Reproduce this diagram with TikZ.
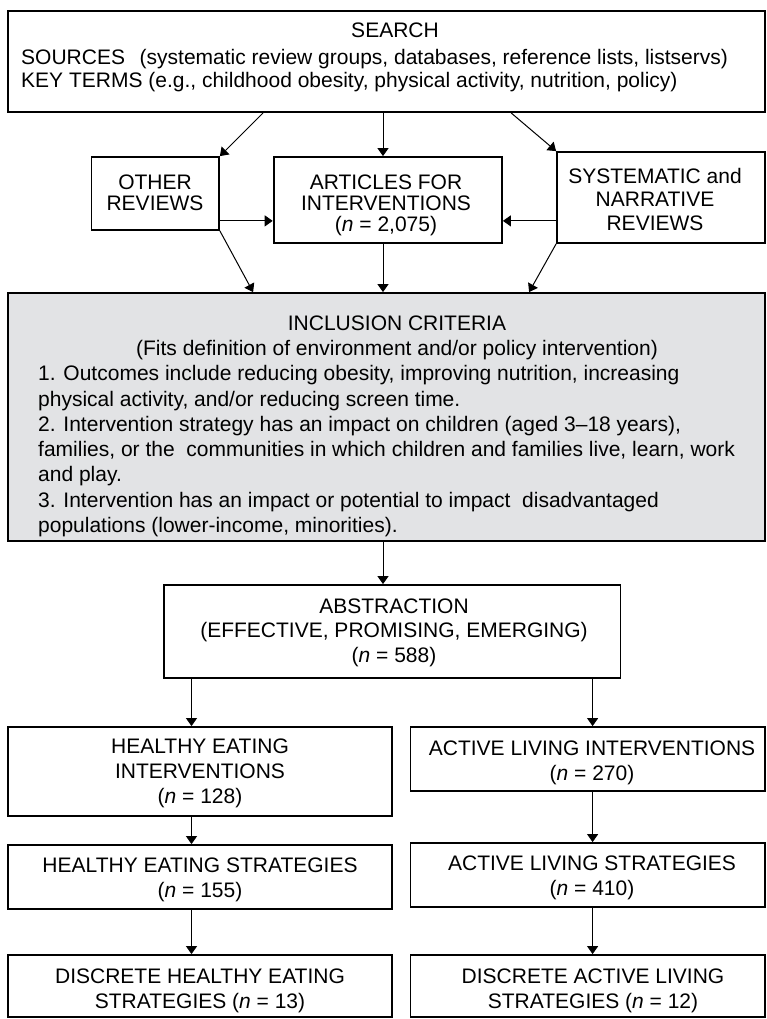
\documentclass[tikz,border=0pt]{standalone}
\usepackage{fontspec}
\setmainfont{Liberation Sans}
\usetikzlibrary{arrows.meta,fit,positioning}
\definecolor{critgray}{RGB}{226,227,229}

\begin{document}
\begin{tikzpicture}[x=1pt,y=-1pt,
  box/.style={draw,line width=1.8pt,inner sep=0pt},
  txt/.style={inner sep=0pt,align=center,font=\fontsize{21}{25}\selectfont},
  arr/.style={line width=1pt,-{Triangle[length=8pt,width=11pt]}}]
\useasboundingbox (0,0) rectangle (766,1019);
\clip (0,0) rectangle (766,1019);
\coordinate (mid) at (383,0);
\coordinate (lft) at (191.5,0);
\coordinate (rgt) at (592.6,0);
\node[box,fit={(8,11) (765,112)}] (search) {};
\node[box,fit={(91.5,157) (219,230)}] (oth) {};
\node[box,fit={(273.6,157) (502,243)}] (art) {};
\node[box,fit={(557,152) (765,243)}] (sys) {};
\node[box,fill=critgray,fit={(8,293) (765,541)}] (inc) {};
\node[box,fit={(163.7,585) (620.4,678)}] (abs) {};
\node[box,fit={(8,727) (391.8,816)}] (hei) {};
\node[box,fit={(410.4,727) (765,791)}] (ali) {};
\node[box,fit={(8,845) (391.8,909)}] (hes) {};
\node[box,fit={(410.4,843) (765,907)}] (als) {};
\node[box,fit={(8,955) (391.8,1017)}] (dhes) {};
\node[box,fit={(410.4,955) (765,1017)}] (dals) {};
\node[txt,anchor=base] (search-ttl) at (395,38) {SEARCH};
\node[txt,anchor=base west,align=left,font=\fontsize{21}{22.5}\selectfont] (search-t) at (21,87.5)
  {SOURCES\hspace{0.7em}(systematic review groups, databases, reference lists, listservs)\\
   KEY TERMS (e.g., childhood obesity, physical activity, nutrition, policy)};
\node[txt,anchor=base,font=\fontsize{21}{21}\selectfont] (oth-t) at (155,210.5) {OTHER\\REVIEWS};
\node[txt,anchor=base,font=\fontsize{21}{21}\selectfont] (art-t) at (386,231)
  {ARTICLES FOR\\INTERVENTIONS\\(\textit{n} = 2,075)};
\node[txt,anchor=base,font=\fontsize{21}{23.5}\selectfont] (sys-t) at (655,230)
  {SYSTEMATIC and\\NARRATIVE\\REVIEWS};
\node[txt,anchor=base,font=\fontsize{21}{25.3}\selectfont] (inc-ttl) at (397,355.3)
  {INCLUSION CRITERIA\\(Fits definition of environment and/or policy intervention)};
\node[txt,anchor=base west,align=left,font=\fontsize{21}{25.3}\selectfont] (inc-t) at (38,532.5)
  {1. Outcomes include reducing obesity, improving nutrition, increasing\\
   physical activity, and/or reducing screen time.\\
   2. Intervention strategy has an impact on children (aged 3--18 years),\\
   families, or the\ \ communities in which children and families live, learn, work\\
   and play.\\
   3. Intervention has an impact or potential to impact\ \ disadvantaged\\
   populations (lower-income, minorities).};
\node[txt,anchor=base,font=\fontsize{21}{24.5}\selectfont] (abs-t) at (394,662)
  {ABSTRACTION\\(EFFECTIVE, PROMISING, EMERGING)\\(\textit{n} = 588)};
\node[txt,anchor=base] (hei-t) at (200,803) {HEALTHY EATING\\INTERVENTIONS\\(\textit{n} = 128)};
\node[txt,anchor=base] (ali-t) at (592,780) {ACTIVE LIVING INTERVENTIONS\\(\textit{n} = 270)};
\node[txt,anchor=base] (hes-t) at (200,897) {HEALTHY EATING STRATEGIES\\(\textit{n} = 155)};
\node[txt,anchor=base] (als-t) at (592,895) {ACTIVE LIVING STRATEGIES\\(\textit{n} = 410)};
\node[txt,anchor=base] (dhes-t) at (200,1008) {DISCRETE HEALTHY EATING\\STRATEGIES (\textit{n} = 13)};
\node[txt,anchor=base] (dals-t) at (593,1008) {DISCRETE ACTIVE LIVING\\STRATEGIES (\textit{n} = 12)};
\draw[arr] ([xshift=256pt]search.south west) -- (oth.north east);
\draw[arr] (search.south -| mid) -- (art.north -| mid);
\draw[arr] ([xshift=504pt]search.south west) -- (sys.north west);
\draw[arr] ([yshift=10pt]oth.south east) -- ([yshift=23pt]art.south west);
\draw[arr] ([yshift=23pt]sys.south west) -- ([yshift=23pt]art.south east);
\draw[arr] (oth.south east) -- ([xshift=246pt]inc.north west);
\draw[arr] (art.south -| mid) -- (inc.north -| mid);
\draw[arr] (sys.south west) -- ([xshift=522pt]inc.north west);
\draw[arr] (inc.south -| mid) -- (abs.north -| mid);
\draw[arr] (abs.south -| lft) -- (hei.north -| lft);
\draw[arr] (abs.south -| rgt) -- (ali.north -| rgt);
\draw[arr] (hei.south -| lft) -- (hes.north -| lft);
\draw[arr] (hes.south -| lft) -- (dhes.north -| lft);
\draw[arr] (ali.south -| rgt) -- (als.north -| rgt);
\draw[arr] (als.south -| rgt) -- (dals.north -| rgt);
\end{tikzpicture}
\end{document}
